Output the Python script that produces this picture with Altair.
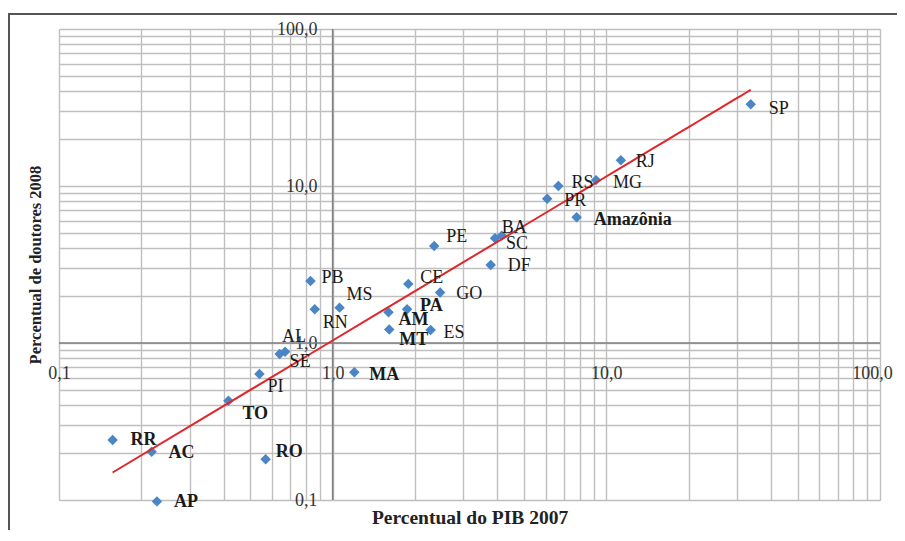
import altair as alt
import pandas as pd

# ---- data ----
uf = ["PB", "RN", "MS", "AL", "SE", "PI", "MA", "CE", "GO", "AM", "PA", "MT", "ES",
      "PE", "BA", "SC", "DF", "RJ", "RS", "MG", "PR", "Amazônia",
      "RR", "AC", "AP", "TO", "RO", "SP"]
pib_2007 = [0.83, 0.86, 1.06, 0.67, 0.64, 0.54, 1.20, 1.89, 2.47, 1.60, 1.87, 1.61, 2.28,
            2.35, 4.15, 3.92, 3.78, 11.3, 6.68, 9.17, 6.08, 7.79,
            0.157, 0.218, 0.228, 0.416, 0.569, 33.7]
doutores_2008 = [2.48, 1.64, 1.68, 0.88, 0.85, 0.635, 0.651, 2.38, 2.10, 1.57, 1.64, 1.22, 1.21,
                 4.15, 4.83, 4.65, 3.14, 14.6, 10.0, 10.9, 8.30, 6.32,
                 0.241, 0.203, 0.098, 0.429, 0.182, 33.2]
bold_labels = ["Amazônia", "RR", "AC", "AP", "TO", "RO", "MA", "AM", "PA", "MT"]

decade_values = [0.1, 1, 10, 100]
decade_labels = ["0,1", "1,0", "10,0", "100,0"]
grid_values = [0.1, 0.2, 0.3, 0.4, 0.5, 0.6, 0.7, 0.8, 0.9,
               1, 2, 3, 4, 5, 6, 7, 8, 9,
               10, 20, 30, 40, 50, 60, 70, 80, 90, 100]

# label placement (style): offset of label's left edge / centre from the point, px
label_offset = {
    "PB": (11, -3), "RN": (8, 14), "MS": (7, -13), "AL": (-3, -15), "SE": (10, 8),
    "PI": (8, 13), "MA": (15, 3), "CE": (12, -6), "GO": (16, 2), "AM": (10, 8),
    "PA": (13, -3), "MT": (10, 11), "ES": (13, 3), "PE": (12, -9), "BA": (0, -8),
    "SC": (11, 6), "DF": (17, 1), "RJ": (15, 2), "RS": (13, -3), "MG": (17, 3),
    "PR": (17, 2), "Amazônia": (17, 3), "RR": (18, 0), "AC": (17, 1), "AP": (17, 1),
    "TO": (14, 13), "RO": (10, -7), "SP": (18, 5),
}

df = pd.DataFrame({"uf": uf, "pib": pib_2007, "doutores": doutores_2008})

FONT = "Liberation Serif"
label_expr = " : ".join(
    f"datum.value == {v} ? '{t}'" for v, t in zip(decade_values, decade_labels)
) + " : ''"

scale = alt.Scale(type="log", domain=[0.1, 100], nice=False)

common_axis = dict(
    values=grid_values, grid=True, gridColor="#bfbfbf", gridWidth=1.4,
    ticks=False, domain=False, labelExpr=label_expr, labelFlush=False,
    labelOverlap=False, labelFont=FONT, labelFontSize=18, labelColor="#333333",
    titleFont=FONT, titleFontWeight="bold", titleColor="#222222",
)

x_axis = alt.Axis(
    **common_axis, labelAlign="center", labelBaseline="middle", labelPadding=0,
    labelOffset={"condition": {"test": "datum.value == 100", "value": -8}, "value": 0},
    offset=-127, title="Percentual do PIB 2007", titleFontSize=19.5,
    titleY=144, titleBaseline="middle",
)
y_axis = alt.Axis(
    **common_axis, labelAlign="right", labelBaseline="middle", labelPadding=16,
    offset=-274, title="Percentual de doutores 2008", titleFontSize=16.5,
    titleX=-298, titleBaseline="middle",
)


def xy(xfield, yfield):
    return dict(
        x=alt.X(xfield, scale=scale, axis=x_axis),
        y=alt.Y(yfield, scale=scale, axis=y_axis),
    )


points = alt.Chart(df).mark_point(
    shape="diamond", filled=True, size=110, color="#4a86c5", opacity=1
).encode(**xy("pib:Q", "doutores:Q"))

trend = alt.Chart(df).transform_filter(
    "datum.uf != 'Amazônia'"
).transform_regression(
    "pib", "doutores", method="pow"
).mark_line(color="#e0262b", strokeWidth=2).encode(**xy("pib:Q", "doutores:Q"))

one = pd.DataFrame({"pib": [1], "doutores": [1]})
axis_x1 = alt.Chart(one).mark_rule(color="#808080", strokeWidth=1.6).encode(
    x=alt.X("pib:Q", scale=scale, axis=x_axis)
)
axis_y1 = alt.Chart(one).mark_rule(color="#808080", strokeWidth=1.6).encode(
    y=alt.Y("doutores:Q", scale=scale, axis=y_axis)
)

frame_top = alt.Chart(one).mark_rule(color="#555555", strokeWidth=2).encode(
    x=alt.value(-51), x2=alt.value(860), y=alt.value(-15)
)
frame_left = alt.Chart(one).mark_rule(color="#555555", strokeWidth=2).encode(
    x=alt.value(-50), y=alt.value(-15), y2=alt.value(530)
)

label_layers = []
for name in uf:
    dx, dy = label_offset[name]
    label_layers.append(
        alt.Chart(df).transform_filter(alt.datum.uf == name).mark_text(
            align="left", baseline="middle", dx=dx, dy=dy, font=FONT, fontSize=18,
            fontWeight="bold" if name in bold_labels else "normal", color="#1a1a1a",
        ).encode(
            **xy("pib:Q", "doutores:Q"),
            text="uf:N",
        )
    )

chart = alt.layer(
    points, axis_x1, axis_y1, trend, *label_layers, frame_top, frame_left
).properties(
    width=821, height=471,
    autosize=alt.AutoSizeParams(type="none"),
    padding={"left": 51, "top": 21, "right": 17, "bottom": 30},
).configure_view(stroke="#a0a0a0", strokeWidth=1.5).configure(background="white")

chart.save("out.html", embed_options={"renderer": "svg", "actions": False})
